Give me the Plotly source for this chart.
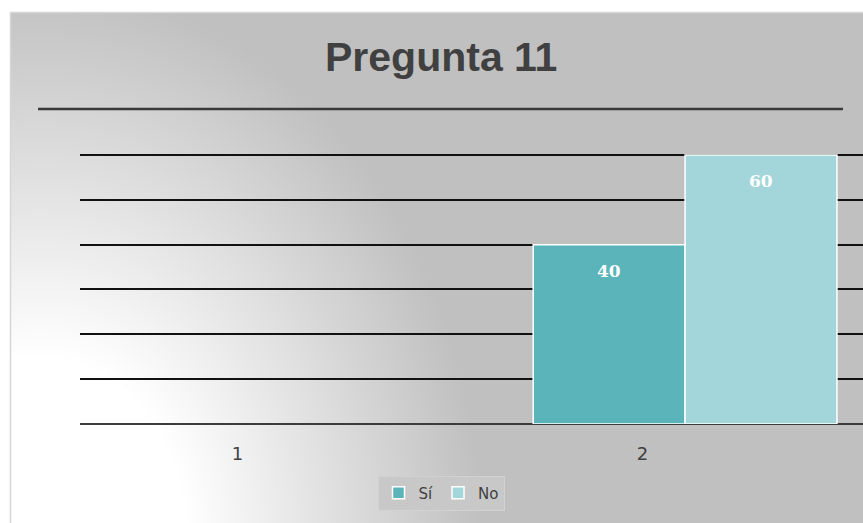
import numpy as np
import plotly.graph_objects as go

# --- data -------------------------------------------------------------
categories = [1, 2]
series_names = ["Sí", "No"]
si_values = [None, 40]
no_values = [None, 60]
series_colors = ["#5bb4ba", "#a2d6da"]
title_text = "Pregunta 11"

W, H = 863, 523
BARGAP = 0.25
Y_TOP = 60.3

fig = go.Figure()

# --- chart-area background: soft white glow from the lower-left corner --
bx = np.arange(10, W + 8, 8)
by = np.arange(13, H + 8, 8)
gx, gy = np.meshgrid(bx, by)
dist = np.sqrt(((gx - 40) / 440.0) ** 2 + ((gy - 540) / 554.0) ** 2)
t = np.clip((dist - 0.33) / 0.67, 0, 1)
shade = 255 - 63 * t
fig.add_trace(go.Heatmap(
    x=bx, y=by, z=shade, zmin=192, zmax=255, zsmooth="best",
    colorscale=[[0, "#c0c0c0"], [1, "#ffffff"]], showscale=False,
    hoverinfo="skip", xaxis="x", yaxis="y",
))

# --- bars -------------------------------------------------------------
for name, vals, col in zip(series_names, [si_values, no_values], series_colors):
    fig.add_trace(go.Bar(
        x=categories, y=vals, name=name, xaxis="x2", yaxis="y2",
        marker=dict(color=col, line=dict(color="white", width=1.5)),
        hoverinfo="skip",
    ))

# value labels, placed over the top of each bar
group_w = 1 - BARGAP
for i, vals in enumerate([si_values, no_values]):
    off = (-0.25 if i == 0 else 0.25) * group_w
    for c, v in zip(categories, vals):
        if v:
            fig.add_annotation(
                x=c + off, y=v, xref="x2", yref="y2", text=str(v),
                showarrow=False, yshift=-26,
                font=dict(family="DejaVu Serif", size=17, color="white", weight="bold"),
            )

# title and its rule
fig.add_annotation(
    x=441 / W, y=1 - 57 / H, xref="paper", yref="paper", text=title_text,
    showarrow=False, xanchor="center", yanchor="middle",
    font=dict(family="Liberation Sans", size=41, color="#404040", weight="bold"),
)
fig.add_shape(type="line", xref="paper", yref="paper",
              x0=38 / W, x1=843 / W, y0=1 - 109 / H, y1=1 - 109 / H,
              line=dict(color="#3a3a3a", width=2.5))

# chart-area border
fig.add_shape(type="rect", xref="paper", yref="paper",
              x0=10.5 / W, x1=1.2, y0=-0.2, y1=1 - 12.5 / H,
              line=dict(color="#d6d6d6", width=1.5), fillcolor="rgba(0,0,0,0)")

x_left = 0.506
x_right = x_left + (W - 80) / 405.0
px_per_unit = (424 - 155) / 60.0
top_px = 424 - Y_TOP * px_per_unit

fig.update_layout(
    width=W, height=H,
    margin=dict(l=0, r=0, t=0, b=0),
    paper_bgcolor="white", plot_bgcolor="rgba(0,0,0,0)",
    barmode="group", bargap=BARGAP, bargroupgap=0,
    showlegend=True,
    legend=dict(
        orientation="h", x=441 / W, y=1 - 493 / H, xanchor="center", yanchor="middle",
        bgcolor="#c8c8c8", bordercolor="#d2d2d2", borderwidth=1,
        font=dict(family="DejaVu Sans", size=15, color="#404040"),
        itemwidth=30, tracegroupgap=0,
    ),
    xaxis=dict(domain=[10 / W, 1], range=[10, W], visible=False, fixedrange=True),
    yaxis=dict(domain=[0, 1 - 13 / H], range=[H, 13], visible=False, fixedrange=True),
    xaxis2=dict(
        domain=[80 / W, 1], range=[x_left, x_right], anchor="y2",
        tickmode="array", tickvals=[c - 0.105 for c in categories],
        ticktext=[str(c) for c in categories],
        showgrid=False, zeroline=False, showline=False, ticks="",
        ticklabelstandoff=17,
        tickfont=dict(family="DejaVu Sans", size=18, color="#404040"),
    ),
    yaxis2=dict(
        domain=[(H - 424) / H, (H - top_px) / H], range=[0, Y_TOP], anchor="x2",
        dtick=10, showticklabels=False, showgrid=True,
        gridcolor="#111111", gridwidth=1.6,
        zeroline=True, zerolinecolor="#3c3c3c", zerolinewidth=2,
        showline=False,
    ),
)

fig.write_html("out.html")
